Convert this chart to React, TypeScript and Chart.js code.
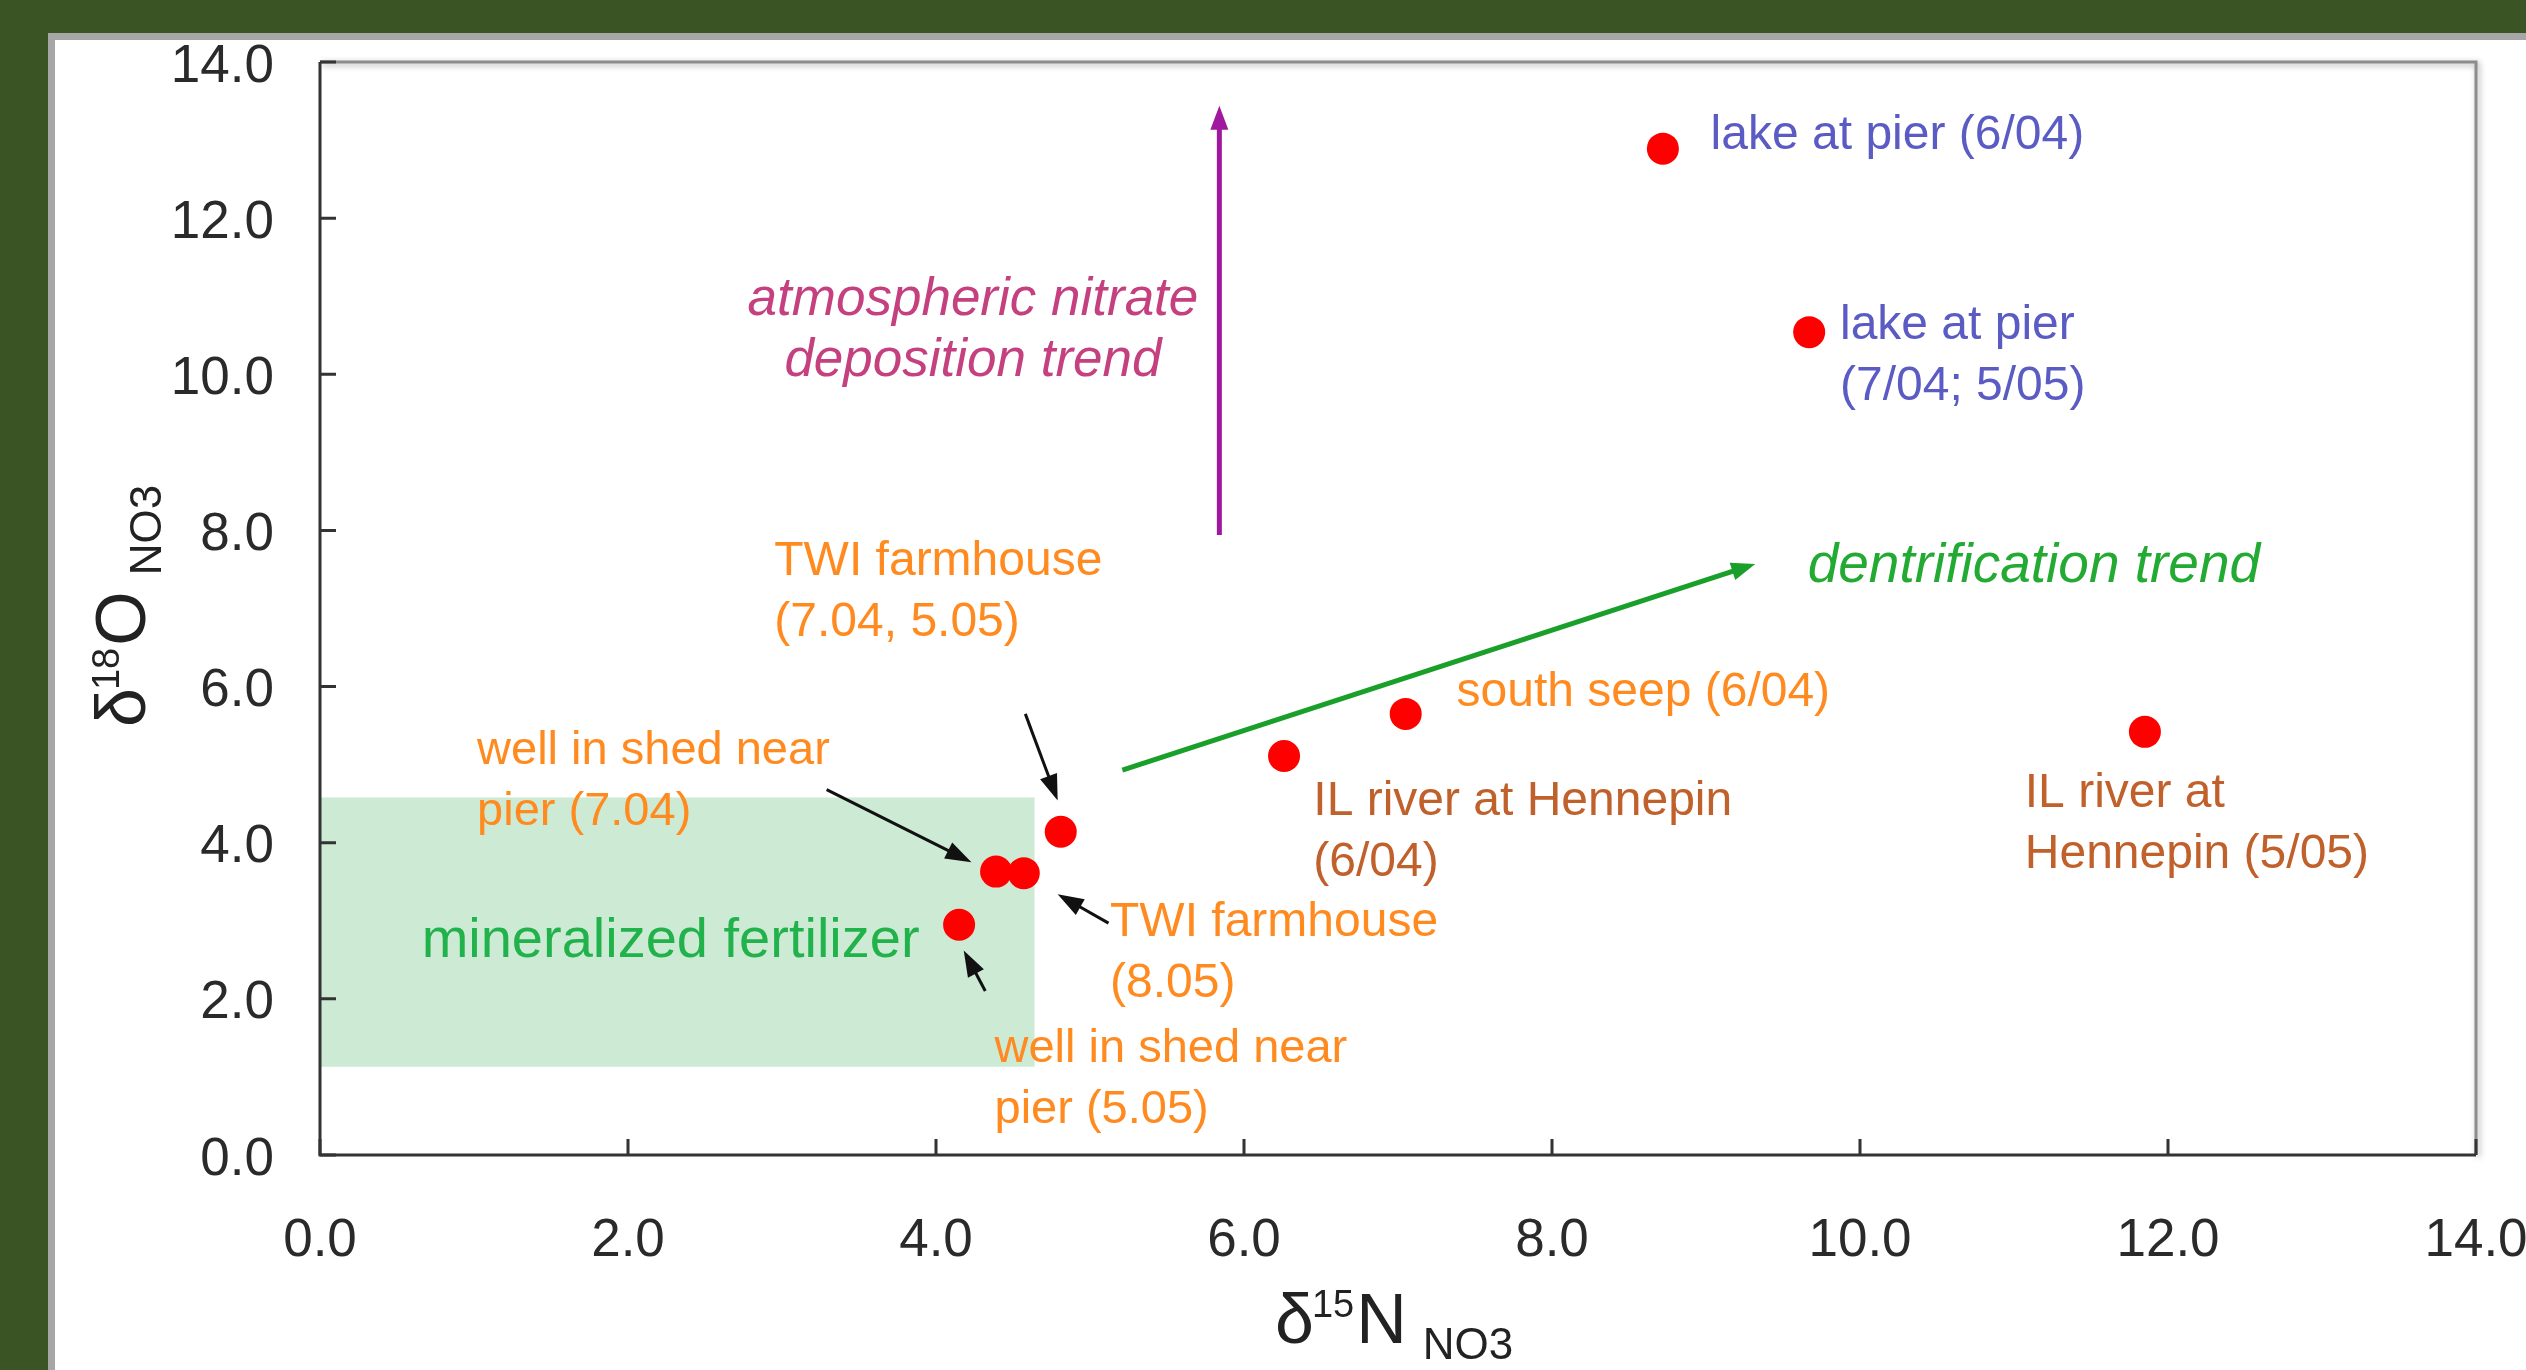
import React, { useEffect, useRef } from "react";
import { Chart, registerables } from "chart.js";

Chart.register(...registerables);

// ---- data ----
const sampleNames = [
  "lake at pier (6/04)",
  "lake at pier (7/04; 5/05)",
  "south seep (6/04)",
  "IL river at Hennepin (6/04)",
  "IL river at Hennepin (5/05)",
  "TWI farmhouse (7.04, 5.05)",
  "well in shed near pier (7.04)",
  "TWI farmhouse (8.05)",
  "well in shed near pier (5.05)",
];
const d15N = [8.72, 9.67, 7.05, 6.26, 11.85, 4.81, 4.39, 4.57, 4.15];
const d18O = [12.89, 10.54, 5.65, 5.11, 5.42, 4.14, 3.63, 3.61, 2.95];
const xTickValues = [0, 2, 4, 6, 8, 10, 12, 14];
const yTickValues = [0, 2, 4, 6, 8, 10, 12, 14];
const fertilizerBoxX = [0, 4.64];
const fertilizerBoxY = [1.13, 4.58];

// annotations anchored in data coordinates
const ORANGE = "#ff8a1f";
const BROWN = "#c0602b";
const BLUE = "#5b5bc4";
const annotationTexts = [
  { lines: ["lake at pier (6/04)"], x: 9.03, y: 13.05, color: BLUE, font: "48px 'Liberation Sans', Arial", align: "left" },
  { lines: ["lake at pier", "(7/04; 5/05)"], x: 9.87, y: 10.62, color: BLUE, font: "48px 'Liberation Sans', Arial", align: "left" },
  { lines: ["atmospheric nitrate", "deposition trend"], x: 4.24, y: 10.95, color: "#c4407f", font: "italic 53px 'Liberation Sans', Arial", align: "center" },
  { lines: ["dentrification trend"], x: 9.66, y: 7.54, color: "#22aa33", font: "italic 55px 'Liberation Sans', Arial", align: "left" },
  { lines: ["TWI farmhouse", "(7.04, 5.05)"], x: 2.95, y: 7.6, color: ORANGE, font: "48px 'Liberation Sans', Arial", align: "left" },
  { lines: ["well in shed near", "pier (7.04)"], x: 1.02, y: 5.17, color: ORANGE, font: "47px 'Liberation Sans', Arial", align: "left" },
  { lines: ["mineralized fertilizer"], x: 0.66, y: 2.74, color: "#22b24c", font: "56px 'Liberation Sans', Arial", align: "left" },
  { lines: ["TWI farmhouse", "(8.05)"], x: 5.13, y: 2.97, color: ORANGE, font: "48px 'Liberation Sans', Arial", align: "left" },
  { lines: ["well in shed near", "pier (5.05)"], x: 4.38, y: 1.36, color: ORANGE, font: "47px 'Liberation Sans', Arial", align: "left" },
  { lines: ["south seep (6/04)"], x: 7.38, y: 5.92, color: ORANGE, font: "48px 'Liberation Sans', Arial", align: "left" },
  { lines: ["IL river at Hennepin", "(6/04)"], x: 6.45, y: 4.53, color: BROWN, font: "48px 'Liberation Sans', Arial", align: "left" },
  { lines: ["IL river at", "Hennepin (5/05)"], x: 11.07, y: 4.63, color: BROWN, font: "48px 'Liberation Sans', Arial", align: "left" },
];
const LINE_SPACING = 61;

const arrows = [
  { from: [5.84, 7.94], to: [5.84, 13.44], color: "#a0189e", width: 5, head: 24, headW: 18 },
  { from: [5.21, 4.93], to: [9.32, 7.57], color: "#1aa02a", width: 5, head: 24, headW: 18 },
  { from: [4.58, 5.65], to: [4.79, 4.54], color: "#111", width: 3, head: 26, headW: 18 },
  { from: [3.29, 4.68], to: [4.23, 3.75], color: "#111", width: 3, head: 26, headW: 18 },
  { from: [4.32, 2.1], to: [4.18, 2.62], color: "#111", width: 3, head: 26, headW: 18 },
  { from: [5.12, 2.97], to: [4.79, 3.34], color: "#111", width: 3, head: 26, headW: 18 },
];

function drawArrow(ctx: CanvasRenderingContext2D, x1: number, y1: number, x2: number, y2: number, color: string, lw: number, head: number, headW: number) {
  const ang = Math.atan2(y2 - y1, x2 - x1);
  const c = Math.cos(ang), s = Math.sin(ang);
  ctx.save();
  ctx.strokeStyle = color;
  ctx.fillStyle = color;
  ctx.lineWidth = lw;
  ctx.lineCap = "butt";
  ctx.beginPath();
  ctx.moveTo(x1, y1);
  ctx.lineTo(x2 - head * 0.8 * c, y2 - head * 0.8 * s);
  ctx.stroke();
  const bx = x2 - head * c, by = y2 - head * s;
  ctx.beginPath();
  ctx.moveTo(x2, y2);
  ctx.lineTo(bx - (headW / 2) * s, by + (headW / 2) * c);
  ctx.lineTo(bx + (headW / 2) * s, by - (headW / 2) * c);
  ctx.closePath();
  ctx.fill();
  ctx.restore();
}

function drawIsotopeTitle(ctx: CanvasRenderingContext2D, x: number, y: number, sup: string, elem: string, sub: string) {
  const big = "70px 'Liberation Sans', Arial";
  const supF = "38px 'Liberation Sans', Arial";
  const subF = "44px 'Liberation Sans', Arial";
  ctx.save();
  ctx.fillStyle = "#222";
  ctx.textBaseline = "alphabetic";
  ctx.textAlign = "left";
  let cx = x;
  ctx.font = big;
  ctx.fillText("δ", cx, y);
  cx += ctx.measureText("δ").width - 2;
  ctx.font = supF;
  ctx.fillText(sup, cx, y - 26);
  cx += ctx.measureText(sup).width + 2;
  ctx.font = big;
  ctx.fillText(elem, cx, y);
  cx += ctx.measureText(elem).width + 16;
  ctx.font = subF;
  ctx.fillText(sub, cx, y + 16);
  ctx.restore();
}

const decorPlugin = {
  id: "decor",
  beforeDraw(chart: any) {
    const { ctx, width, height } = chart;
    ctx.save();
    ctx.fillStyle = "#3a5423";
    ctx.fillRect(0, 0, width, height);
    ctx.fillStyle = "#a6a6a6";
    ctx.fillRect(48, 33, width - 48, height - 33);
    ctx.fillStyle = "#ffffff";
    ctx.fillRect(55, 40, width - 55, height - 40);
    ctx.restore();
  },
  beforeDatasetsDraw(chart: any) {
    const { ctx } = chart;
    const xs = chart.scales.x, ys = chart.scales.y;
    const l = xs.getPixelForValue(fertilizerBoxX[0]);
    const r = xs.getPixelForValue(fertilizerBoxX[1]);
    const t = ys.getPixelForValue(fertilizerBoxY[1]);
    const b = ys.getPixelForValue(fertilizerBoxY[0]);
    ctx.save();
    ctx.fillStyle = "#cdebd4";
    ctx.fillRect(l, t, r - l, b - t);
    ctx.restore();
  },
  afterDatasetsDraw(chart: any) {
    const { ctx, chartArea } = chart;
    const xs = chart.scales.x, ys = chart.scales.y;
    const { left, right, top, bottom } = chartArea;
    ctx.save();
    // top & right frame with shadow
    ctx.shadowColor = "rgba(0,0,0,0.35)";
    ctx.shadowBlur = 6;
    ctx.shadowOffsetX = 2;
    ctx.shadowOffsetY = 2;
    ctx.strokeStyle = "#8c8c8c";
    ctx.lineWidth = 3;
    ctx.beginPath();
    ctx.moveTo(left, top);
    ctx.lineTo(right, top);
    ctx.lineTo(right, bottom);
    ctx.stroke();
    ctx.shadowColor = "transparent";
    // left & bottom axes
    ctx.strokeStyle = "#333";
    ctx.lineWidth = 3;
    ctx.beginPath();
    ctx.moveTo(left, top);
    ctx.lineTo(left, bottom);
    ctx.lineTo(right, bottom);
    ctx.stroke();
    // inward ticks
    ctx.lineWidth = 3;
    ctx.beginPath();
    xTickValues.forEach((v) => {
      const px = xs.getPixelForValue(v);
      ctx.moveTo(px, bottom);
      ctx.lineTo(px, bottom - 16);
    });
    yTickValues.forEach((v) => {
      const py = ys.getPixelForValue(v);
      ctx.moveTo(left, py);
      ctx.lineTo(left + 16, py);
    });
    ctx.stroke();
    ctx.restore();

    // arrows
    arrows.forEach((a) => {
      drawArrow(
        ctx,
        xs.getPixelForValue(a.from[0]), ys.getPixelForValue(a.from[1]),
        xs.getPixelForValue(a.to[0]), ys.getPixelForValue(a.to[1]),
        a.color, a.width, a.head, a.headW
      );
    });

    // labels
    ctx.save();
    ctx.textBaseline = "middle";
    annotationTexts.forEach((t) => {
      ctx.font = t.font;
      ctx.fillStyle = t.color;
      ctx.textAlign = t.align as CanvasTextAlign;
      const px = xs.getPixelForValue(t.x);
      const py = ys.getPixelForValue(t.y);
      t.lines.forEach((line, i) => ctx.fillText(line, px, py + i * LINE_SPACING));
    });
    ctx.restore();

    // axis titles
    drawIsotopeTitle(ctx, 1275, 1343, "15", "N", "NO3");
    ctx.save();
    ctx.translate(145, 727);
    ctx.rotate(-Math.PI / 2);
    drawIsotopeTitle(ctx, 0, 0, "18", "O", "NO3");
    ctx.restore();
  },
};

export default function App() {
  const canvasRef = useRef<HTMLCanvasElement | null>(null);

  useEffect(() => {
    const canvas = canvasRef.current;
    if (!canvas) return;
    const chart = new Chart(canvas, {
      type: "scatter",
      data: {
        datasets: [
          {
            label: "samples",
            data: d15N.map((x, i) => ({ x, y: d18O[i], name: sampleNames[i] })),
            backgroundColor: "#ff0000",
            borderWidth: 0,
            pointRadius: 16,
            pointHoverRadius: 16,
          },
        ],
      },
      options: {
        animation: false,
        responsive: false,
        devicePixelRatio: 1,
        events: [],
        layout: { padding: { top: 62, right: 50, left: 0, bottom: 0 } },
        plugins: { legend: { display: false }, tooltip: { enabled: false } },
        scales: {
          x: {
            type: "linear",
            min: 0,
            max: 14,
            afterBuildTicks: (scale: any) => {
              scale.ticks = xTickValues.map((v) => ({ value: v }));
            },
            afterFit: (scale: any) => {
              scale.height = 215;
              scale.paddingLeft = 0;
              scale.paddingRight = 0;
            },
            grid: { display: false, drawTicks: false },
            border: { display: false },
            ticks: {
              padding: 55,
              color: "#2a2a2a",
              font: { family: "'Liberation Sans', Arial", size: 53 },
              callback: (v: any) => Number(v).toFixed(1),
              maxRotation: 0,
              autoSkip: false,
            },
          },
          y: {
            type: "linear",
            min: 0,
            max: 14,
            afterBuildTicks: (scale: any) => {
              scale.ticks = yTickValues.map((v) => ({ value: v }));
            },
            afterFit: (scale: any) => {
              scale.width = 320;
              scale.paddingTop = 0;
              scale.paddingBottom = 0;
            },
            grid: { display: false, drawTicks: false },
            border: { display: false },
            ticks: {
              padding: 46,
              labelOffset: 5,
              color: "#2a2a2a",
              font: { family: "'Liberation Sans', Arial", size: 53 },
              callback: (v: any) => Number(v).toFixed(1),
              autoSkip: false,
            },
          },
        },
      },
      plugins: [decorPlugin],
    } as any);
    return () => chart.destroy();
  }, []);

  return (
    <div style={{ position: "fixed", left: 0, top: 0, width: 2526, height: 1370, background: "#3a5423" }}>
      <canvas ref={canvasRef} width={2526} height={1370} style={{ display: "block", width: 2526, height: 1370 }} />
    </div>
  );
}
